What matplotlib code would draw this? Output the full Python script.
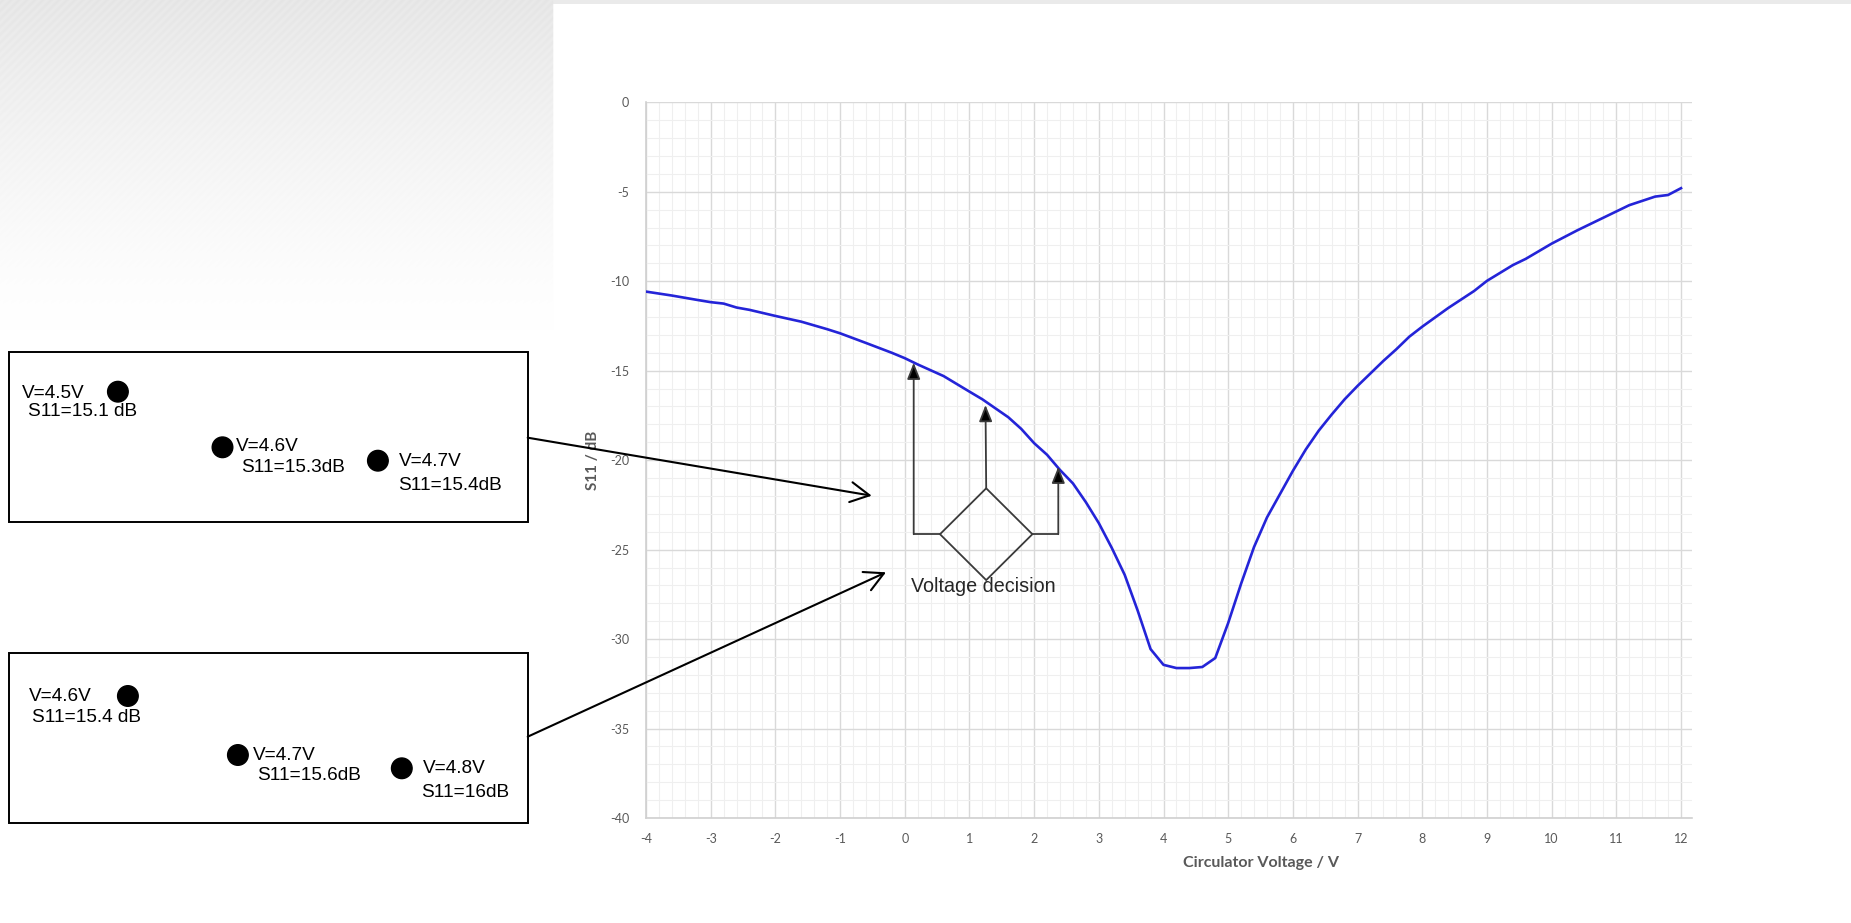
import numpy as np
import matplotlib
matplotlib.use("Agg")
import matplotlib.pyplot as plt
from matplotlib.patches import Rectangle, Circle, Polygon, FancyArrowPatch
from matplotlib.ticker import MultipleLocator

plt.rcParams["axes.unicode_minus"] = False

# ---------------- data ----------------
voltage = [-4.0, -3.6, -3.2, -3.0, -2.8, -2.6, -2.4, -2.0, -1.6, -1.2, -1.0, -0.6, -0.2,
           0.0, 0.2, 0.6, 1.0, 1.2, 1.4, 1.6, 1.8, 2.0, 2.2, 2.4, 2.6, 2.8, 3.0, 3.2,
           3.4, 3.6, 3.8, 4.0, 4.2, 4.4, 4.6, 4.8, 5.0, 5.2, 5.4, 5.6, 5.8, 6.0, 6.2,
           6.4, 6.6, 6.8, 7.0, 7.2, 7.4, 7.6, 7.8, 8.0, 8.4, 8.8, 9.0, 9.4, 9.6, 10.0,
           10.4, 10.8, 11.0, 11.2, 11.6, 11.8, 12.0]
s11_db = [-10.58, -10.80, -11.05, -11.17, -11.25, -11.47, -11.60, -11.94, -12.26, -12.68,
          -12.91, -13.45, -14.00, -14.30, -14.65, -15.30, -16.17, -16.60, -17.10, -17.60,
          -18.25, -19.05, -19.70, -20.55, -21.30, -22.35, -23.52, -24.90, -26.41, -28.40,
          -30.56, -31.44, -31.62, -31.62, -31.56, -31.06, -29.10, -26.90, -24.85, -23.20,
          -21.90, -20.60, -19.40, -18.35, -17.45, -16.60, -15.85, -15.15, -14.45, -13.80,
          -13.10, -12.54, -11.50, -10.55, -9.98, -9.10, -8.75, -7.90, -7.15, -6.45,
          -6.10, -5.75, -5.27, -5.18, -4.80]

x_ticks = list(range(-4, 13))
y_ticks = list(range(-40, 1, 5))

box1_volt = ["V=4.5V", "V=4.6V", "V=4.7V"]
box1_s11 = ["S11=15.1 dB", "S11=15.3dB", "S11=15.4dB"]
box2_volt = ["V=4.6V", "V=4.7V", "V=4.8V"]
box2_s11 = ["S11=15.4 dB", "S11=15.6dB", "S11=16dB"]
decision_label = "Voltage decision"
x_title = "Circulator Voltage / V"
y_title = "S11 / dB"

# ---------------- figure ----------------
W, H = 1851, 923
fig = plt.figure(figsize=(W / 100, H / 100), dpi=100)

# background (striped gradient on the left, thin band on top)
yy, xx = np.mgrid[0:H, 0:W]
fade = np.clip(1 - yy / 330.0, 0, 1) ** 1.3
stripes = 0.5 + 0.5 * np.sin(2 * np.pi * (xx + yy) / 8.0)
bg = np.ones((H, W))
left = xx < 553
bg[left] = (1 - 0.085 * fade - 0.018 * fade * stripes)[left]
band = (yy < 4) & (xx >= 553)
bg[band] = 0.92
bgax = fig.add_axes([0, 0, 1, 1], zorder=-10)
bgax.imshow(np.dstack([bg, bg, bg]), extent=[0, W, H, 0], aspect="auto", interpolation="bilinear")
bgax.axis("off")

# main chart
px_left, px_right, px_top, px_bottom = 646, 1692, 102.3, 818
ax = fig.add_axes([px_left / W, (H - px_bottom) / H, (px_right - px_left) / W,
                   (px_bottom - px_top) / H])
ax.set_facecolor("white")
ax.plot(voltage, s11_db, color="#2424d8", lw=1.9, zorder=3, solid_joinstyle="round")
ax.set_xlim(-4, 12.17)
ax.set_ylim(-40, 0)
ax.set_xticks(x_ticks)
ax.set_yticks(y_ticks)
ax.xaxis.set_minor_locator(MultipleLocator(0.2))
ax.yaxis.set_minor_locator(MultipleLocator(1))
ax.grid(which="major", color="#d9d9d9", lw=1.0)
ax.grid(which="minor", color="#efefef", lw=0.8)
ax.set_axisbelow(True)
for s in ["top", "right"]:
    ax.spines[s].set_visible(False)
for s in ["left", "bottom"]:
    ax.spines[s].set_color("#d0d0d0")
    ax.spines[s].set_linewidth(1.2)
ax.tick_params(which="both", length=0)
ax.tick_params(axis="y", pad=12)
ax.tick_params(axis="x", pad=11)
for lab in ax.get_xticklabels() + ax.get_yticklabels():
    lab.set_fontfamily("Lato")
    lab.set_fontsize(9)
    lab.set_color("#595959")
ax.set_xlabel(x_title, family="Lato", fontsize=11.5, fontweight="bold", color="#595959")
ax.xaxis.set_label_coords((1261 - px_left) / (px_right - px_left),
                          -(863 - px_bottom) / (px_bottom - px_top))
ax.xaxis.label.set_va("center")
ax.set_ylabel(y_title, family="Lato", fontsize=11, fontweight="bold", color="#595959")
ax.yaxis.set_label_coords(-(px_left - 593) / (px_right - px_left), 0.5)
ax.yaxis.label.set_va("center")

# overlay in pixel coordinates for the diagram
ov = fig.add_axes([0, 0, 1, 1], zorder=10)
ov.set_xlim(0, W)
ov.set_ylim(H, 0)
ov.axis("off")
ov.patch.set_alpha(0)

txt = dict(family="Liberation Sans", fontsize=13.7, color="black", va="center", ha="left")

box_right = 527.7
for (top, bottom) in [(351.7, 522.2), (652.5, 822.7)]:
    ov.add_patch(Rectangle((9.4, top), box_right - 9.4, bottom - top, fill=True,
                           facecolor="white", edgecolor="black", lw=1.4))

# box 1 contents
dots1 = [(117.9, 391.7), (222.5, 447.3), (377.9, 460.7)]
vpos1 = [(22.1, 393), (236.4, 446.7), (399.3, 461.7)]
spos1 = [(27.9, 411.7), (241, 467.7), (398.2, 485)]
for d, v, s, vt, st in zip(dots1, vpos1, spos1, box1_volt, box1_s11):
    ov.add_patch(Circle(d, 10.3, color="black"))
    ov.text(v[0], v[1], vt, **txt)
    ov.text(s[0], s[1], st, **txt)

# box 2 contents
dots2 = [(127.9, 696), (237.9, 755), (401.8, 768.3)]
vpos2 = [(28.6, 696.7), (252.9, 755), (423.2, 768.3)]
spos2 = [(32.1, 717.3), (257.1, 776), (420.7, 792.7)]
for d, v, s, vt, st in zip(dots2, vpos2, spos2, box2_volt, box2_s11):
    ov.add_patch(Circle(d, 10.3, color="black"))
    ov.text(v[0], v[1], vt, **txt)
    ov.text(s[0], s[1], st, **txt)

# long arrows from boxes
for a, b in [((box_right, 437.7), (871.7, 495.7)), ((box_right, 736.7), (886, 572.3))]:
    ov.add_patch(FancyArrowPatch(a, b, arrowstyle="->,head_length=0.68,head_width=0.36",
                                 mutation_scale=20, color="black", lw=1.5,
                                 shrinkA=0, shrinkB=0))

# decision diamond
cx, cy, hw, hh = 986.2, 534.2, 46.2, 45.9
gray = "#3a3a3a"
ov.add_patch(Polygon([(cx - hw, cy), (cx, cy - hh), (cx + hw, cy), (cx, cy + hh)],
                     closed=True, fill=False, edgecolor=gray, lw=1.3))
ov.plot([cx - hw, 913.7], [cy, cy], color=gray, lw=1.3)
ov.plot([cx + hw, 1058.3], [cy, cy], color=gray, lw=1.3)
for start, tip in [((913.7, cy), (913.7, 362.7)), ((cx, cy - hh), (985.5, 405)),
                   ((1058.3, cy), (1058.3, 466.7))]:
    ov.add_patch(FancyArrowPatch(start, tip, arrowstyle="-|>,head_length=0.5,head_width=0.2",
                                 mutation_scale=20, ec=gray, fc="black",
                                 lw=1.3, shrinkA=0, shrinkB=0))
ov.text(910.7, 587, decision_label, family="Liberation Sans", fontsize=14.2,
        color="#262626", va="center", ha="left")

fig.savefig("out.png", dpi=100)
